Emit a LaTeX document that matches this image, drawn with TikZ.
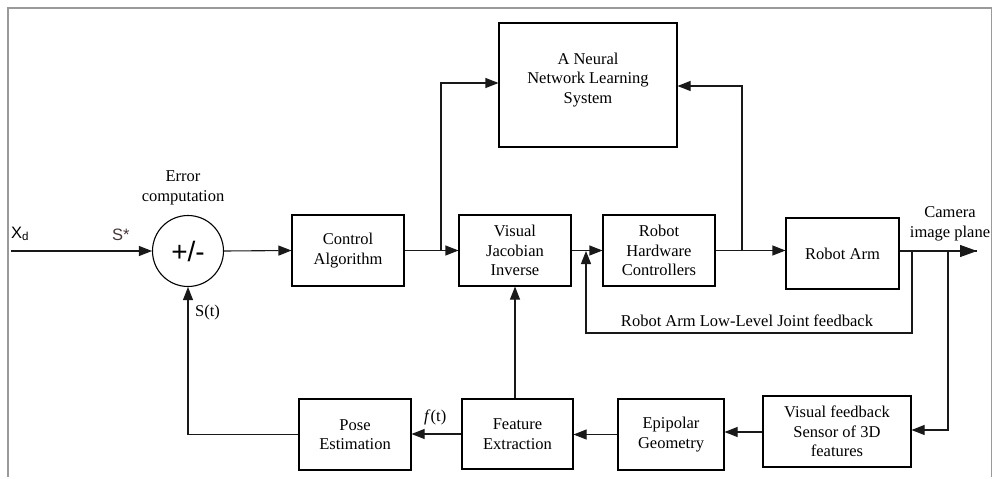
\documentclass[tikz,border=0pt]{standalone}
\usepackage{fontspec}
\setmainfont{Liberation Serif}
\setsansfont{Liberation Sans}
\usetikzlibrary{arrows.meta}
\definecolor{framegray}{HTML}{9A9A9A}
\definecolor{sstar}{HTML}{4A3535}
\begin{document}
\begin{tikzpicture}[x=1pt,y=-1pt,
  txt/.style={font=\fontsize{16.5}{19.5}\selectfont, align=center, inner sep=0pt},
  blk/.style={draw=black, line width=1.1pt, rectangle, inner sep=0pt, txt},
  arr/.style={draw=black!90, line width=1.1pt, -{Triangle[length=13pt,width=10pt]}},
  ln/.style={draw=black!90, line width=1.1pt},
  sans/.style={font=\sffamily\fontsize{16.5}{19}\selectfont, inner sep=0pt}]
\useasboundingbox (0,0) rectangle (997,479);
% outer frame, open at the bottom
\draw[framegray, line width=1.5pt] (8,477) -- (8,8) -- (991.5,8) -- (991.5,477);

% blocks
\node[blk, minimum width=178pt, minimum height=124pt] (neural) at (588,85) {};
\node[txt] (neuraltxt) at (588,80) {A Neural\\Network Learning\\System};
\node[blk, minimum width=112pt, minimum height=71pt] (ctrl) at (348,250.5) {Control\\Algorithm};
\node[blk, minimum width=112pt, minimum height=71pt] (vji) at (515,250.5) {Visual\\Jacobian\\Inverse};
\node[blk, minimum width=112pt, minimum height=71pt] (rhc) at (659,250.5) {Robot\\Hardware\\Controllers};
\node[blk, minimum width=113pt, minimum height=71pt] (arm) at (842.5,253.5) {Robot Arm};
\node[blk, minimum width=148pt, minimum height=71pt] (vfs) at (837,431.5) {Visual feedback\\Sensor of 3D\\features};
\node[blk, minimum width=106pt, minimum height=71pt] (epi) at (671,434.5) {Epipolar\\Geometry};
\node[blk, minimum width=111pt, minimum height=70pt] (fex) at (517.5,434) {Feature\\Extraction};
\node[blk, minimum width=112pt, minimum height=71pt] (pose) at (355,434.5) {Pose\\Estimation};
\node[draw=black, line width=1.1pt, circle, minimum size=71pt, inner sep=0pt,
      font=\sffamily\fontsize{28}{30}\selectfont] (sum) at (188,251) {+/-};

% labels
\node[txt] (errlbl) at (183,188) {Error\\computation};
\node[sans, anchor=base west] (xd) at (11,238) {X\textsubscript{d}};
\node[sans, text=sstar, anchor=base west] (sst) at (112,240) {S*};
\node[txt, anchor=base west] (stl) at (195,316) {S(t)};
\node[txt, anchor=base west] (ftl) at (424,421) {\textit{f}(t)};
\node[txt] (lljf) at (747,321) {Robot Arm Low-Level Joint feedback};
\node[txt] (cam) at (950,224) {Camera\\image plane};

% junction points
\coordinate (xin) at (11,251);
\coordinate (j1) at (441,251);
\coordinate (j2) at (742,251);
\coordinate (j3) at (912,251);
\coordinate (j4) at (948,251);
\coordinate (camout) at (977,251);
\coordinate (fbin) at (586,251);
\coordinate (fbcorner) at (586,333);

% forward path
\draw[arr] (xin) -- (sum.west);
\draw[arr] (sum.east) -- (ctrl.west);
\draw[arr] (ctrl.east) -- (vji.west);
\draw[arr] (vji.east) -- (rhc.west);
\draw[arr] (rhc.east) -- (arm.west |- rhc.east);
\draw[ln] (arm.east |- j3) -- (camout);
\draw[-{Triangle[length=17pt,width=12pt]}, black!90, line width=1.1pt] (j4) -- (camout);

% learning branches
\draw[arr] (j1) |- ([yshift=2pt]neural.west);
\draw[arr] (j2) |- ([yshift=-1pt]neural.east);

% joint feedback loop
\draw[arr] (j3) |- (fbcorner) -- (fbin);

% visual feedback loop
\draw[arr] (j4) |- ([yshift=1.5pt]vfs.east);
\draw[arr] ([yshift=-0.5pt]vfs.west) -- ([yshift=-0.5pt]vfs.west -| epi.east);
\draw[arr] (epi.west) -- (epi.west -| fex.east);
\draw[arr] (fex.west) -- (fex.west -| pose.east);
\draw[arr] (vji.south |- fex.north) -- (vji.south);
\draw[arr] (pose.west) -| (sum.south);
\end{tikzpicture}
\end{document}
